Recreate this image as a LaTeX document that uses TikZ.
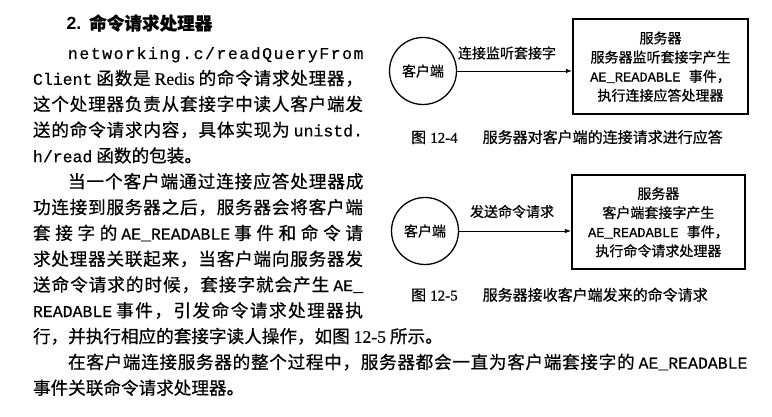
\documentclass[tikz,border=0pt]{standalone}
\usepackage{fontspec}
\setmainfont{Liberation Serif}[FakeBold=0.5]
\setsansfont{Liberation Sans}
\setmonofont{Liberation Mono}[FakeBold=0.4]
\newfontfamily\cjk{Noto Sans CJK SC}[FakeBold=0.6]
\usetikzlibrary{arrows.meta}
\makeatletter
\count@="4E00
\loop
\XeTeXcharclass\count@=10
\advance\count@\@ne
\ifnum\count@<"A000 \repeat
\makeatother
\XeTeXcharclass"FF0C=10
\XeTeXcharclass"3002=10
\XeTeXinterchartoks 10 10 = {\hskip 0pt plus 1fil\relax}
\newcommand\bodyfont{\cjk\fontsize{17.6pt}{20pt}\selectfont}
\newcommand\tm[1]{{\ttfamily\fontsize{16.5pt}{20pt}\selectfont #1}}
\newcommand\tms[1]{{\ttfamily\fontsize{13.7pt}{19.1pt}\selectfont #1}}
\newcommand\jl[2]{\hbox to #1{\XeTeXinterchartokenstate=1 #2}}
\tikzset{
  body/.style={anchor=base west, inner sep=0pt, outer sep=0pt, font=\bodyfont},
  client/.style={circle, draw, line width=1.3pt, minimum size=67pt, inner sep=0pt,
    font=\cjk\fontsize{14pt}{17pt}\selectfont},
  server/.style={draw, line width=1.7pt, inner sep=0pt, align=center,
    font=\cjk\fontsize{14pt}{19.1pt}\selectfont},
  lbl/.style={inner sep=0pt, font=\cjk\fontsize{14pt}{17pt}\selectfont},
  figcap/.style={anchor=base west, inner sep=0pt, font=\cjk\fontsize{15pt}{18pt}\selectfont},
  conn/.style={-{Latex[length=6pt,width=4.5pt]}, line width=0.7pt}
}
\begin{document}
\begin{tikzpicture}[x=1pt,y=-1pt]
\fill[white] (0,0) rectangle (772,417);
\useasboundingbox (0,0) rectangle (772,417);
% heading
\node[body, font=\cjk\bfseries\fontsize{17.6pt}{20pt}\selectfont] (title) at (66.5,29.8)
  {{\sffamily 2.}\hspace{8pt}命令请求处理器};
% left column
\node[body] (l1) at (68,59) {\jl{295.5pt}{\tm{n\hfil e\hfil t\hfil w\hfil o\hfil r\hfil k\hfil i\hfil n\hfil g\hfil .\hfil c\hfil /\hfil r\hfil e\hfil a\hfil d\hfil Q\hfil u\hfil e\hfil r\hfil y\hfil F\hfil r\hfil o\hfil m}}};
\node[body] (l2) at (33,84.8) {\jl{330pt}{\tm{Client} 函数是 {\rmfamily Redis} 的命令请求处理器，}};
\node[body] (l3) at (33,110.6) {\jl{330pt}{这个处理器负责从套接字中读人客户端发}};
\node[body] (l4) at (33,136.4) {\jl{330pt}{送的命令请求内容，具体实现为 \tm{unistd.}}};
\node[body] (l5) at (33,162.2) {\tm{h/read} 函数的包装。};
\node[body] (l6) at (68,188) {\jl{295.5pt}{当一个客户端通过连接应答处理器成}};
\node[body] (l7) at (33,213.8) {\jl{330pt}{功连接到服务器之后，服务器会将客户端}};
\node[body] (l8) at (33,239.6) {\jl{330pt}{套接字的 \tm{AE\_READABLE} 事件和命令请}};
\node[body] (l9) at (33,265.4) {\jl{330pt}{求处理器关联起来，当客户端向服务器发}};
\node[body] (l10) at (33,291.2) {\jl{330pt}{送命令请求的时候，套接字就会产生 \tm{AE\_}}};
\node[body] (l11) at (33,317) {\jl{330pt}{\tm{READABLE} 事件，引发命令请求处理器执}};
\node[body] (l12) at (33,342.8) {行，并执行相应的套接字读人操作，如图 {\rmfamily 12-5} 所示。};
\node[body] (l13) at (68,368.6) {\jl{679.5pt}{在客户端连接服务器的整个过程中，服务器都会一直为客户端套接字的 \tm{AE\_READABLE}}};
\node[body] (l14) at (33,394.4) {事件关联命令请求处理器。};
% figure 12-4
\node[client] (c1) at (423,71) {客户端};
\node[server, minimum width=175.6pt, minimum height=94.7pt] (s1) at (660.5,66.7)
  {服务器\\服务器监听套接字产生\\\tms{AE\_READABLE\ }事件，\\执行连接应答处理器};
\draw[conn] (c1.east) -- (c1.east -| s1.west);
\node[lbl] (t1) at (507,53) {连接监听套接字};
\node[figcap] (cap1) at (411,142.8) {图\hspace{4pt}{\rmfamily 12-4}\hspace{25pt}服务器对客户端的连接请求进行应答};
% figure 12-5
\node[client] (c2) at (425,231) {客户端};
\node[server, minimum width=173.3pt, minimum height=94.3pt] (s2) at (658.4,222.2)
  {服务器\\客户端套接字产生\\\tms{AE\_READABLE\ }事件，\\执行命令请求处理器};
\draw[conn] (c2.east) -- (c2.east -| s2.west);
\node[lbl] (t2) at (512,211.5) {发送命令请求};
\node[figcap] (cap2) at (411,300.5) {图\hspace{4pt}{\rmfamily 12-5}\hspace{25pt}服务器接收客户端发来的命令请求};
\end{tikzpicture}
\end{document}
